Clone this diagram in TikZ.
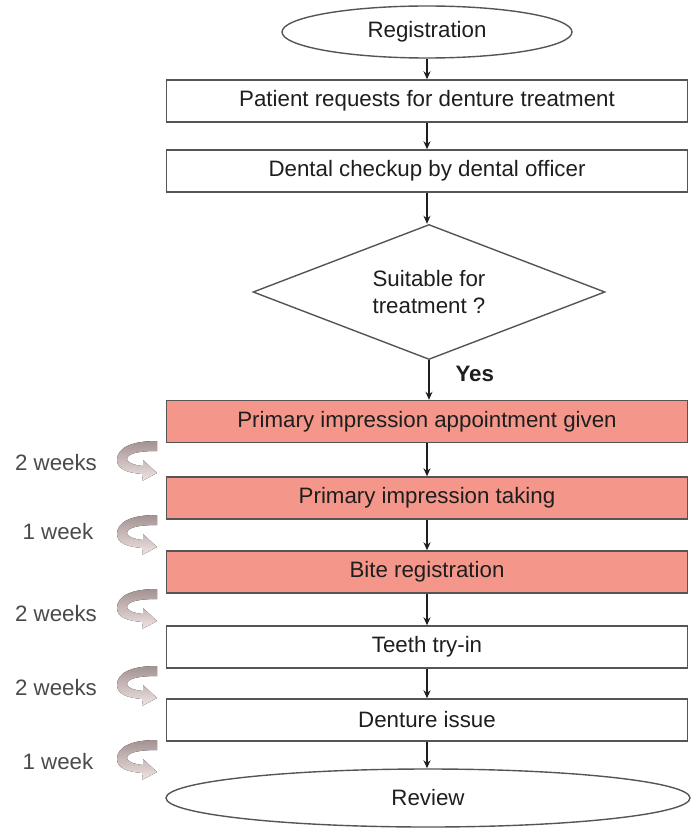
\documentclass[tikz,border=0pt]{standalone}
\usepackage{fontspec}
\setmainfont{Liberation Sans}
\usetikzlibrary{shapes.geometric,arrows.meta}

\definecolor{inkc}{HTML}{1E1E1E}
\definecolor{edgec}{HTML}{555555}
\definecolor{salmon}{HTML}{F4978A}
\definecolor{labelc}{HTML}{4A4A4A}
\definecolor{lagdark}{HTML}{A39292}
\definecolor{laglight}{HTML}{F2E4E4}

\tikzset{
  basetext/.style={font=\fontsize{22.3}{26.5}\selectfont, text=inkc},
  procbox/.style={basetext, draw=edgec, line width=1.4pt, fill=white,
    minimum width=521pt, minimum height=42pt, inner sep=0pt},
  hlbox/.style={procbox, fill=salmon},
  termshape/.style={basetext, ellipse, draw=edgec, line width=1.4pt, inner sep=0pt},
  decision/.style={basetext, diamond, draw=edgec, line width=1.4pt, inner sep=0pt,
    shape aspect=2.6, minimum width=352pt, minimum height=135pt, align=center},
  flow/.style={draw=inkc, line width=1.4pt, -{Stealth[length=8pt, width=7pt]}},
  waitlabel/.style={font=\fontsize{22.3}{26.5}\selectfont, text=labelc},
  lagarrow/.pic={
    \fill[top color=lagdark, bottom color=laglight]
      (40,0) .. controls (14,0) and (0,7) .. (0,19)
      .. controls (0,28) and (10,32) .. (26,33)
      -- (25,40) -- (40,32) -- (26,19) -- (26,25)
      .. controls (15,24) and (10,21) .. (10,18)
      .. controls (10,13) and (20,10) .. (40,10) -- cycle;
  }
}

\begin{document}
\begin{tikzpicture}[x=1pt, y=-1pt]
  \useasboundingbox (0,0) rectangle (692,829);

  % main flow
  \node[termshape, minimum width=290pt, minimum height=52pt] (reg) at (427,32) {Registration};
  \node[procbox] (req) at (427,101) {Patient requests for denture treatment};
  \node[procbox] (chk) at (427,171) {Dental checkup by dental officer};
  \node[decision] (dec) at (429,292) {Suitable for\\treatment ?};
  \node[hlbox] (pia) at (427,421.5) {Primary impression appointment given};
  \node[hlbox] (pit) at (427,498) {Primary impression taking};
  \node[hlbox] (bite) at (427,572) {Bite registration};
  \node[procbox] (try) at (427,647) {Teeth try-in};
  \node[procbox] (iss) at (427,720) {Denture issue};
  \node[termshape, minimum width=524pt, minimum height=58pt] (rev) at (428,798) {Review};

  \draw[flow] (reg.south) -- (reg.south |- req.north);
  \draw[flow] (req.south) -- (chk.north);
  \draw[flow] (chk.south) -- (chk.south |- dec.north);
  \draw[flow] (dec.south) -- (dec.south |- pia.north);
  \draw[flow] (pia.south) -- (pit.north);
  \draw[flow] (pit.south) -- (bite.north);
  \draw[flow] (bite.south) -- (try.north);
  \draw[flow] (try.south) -- (iss.north);
  \draw[flow] (iss.south) -- (iss.south |- rev.north);

  \node[basetext, font=\fontsize{22.3}{26.5}\selectfont\bfseries, anchor=west] (yes) at (452,374) {Yes};

  % waiting periods between visits
  \node[waitlabel] (w1) at (56,463) {2 weeks};
  \node[waitlabel] (w2) at (58,532) {1 week};
  \node[waitlabel] (w3) at (56,614) {2 weeks};
  \node[waitlabel] (w4) at (56,688) {2 weeks};
  \node[waitlabel] (w5) at (58,762) {1 week};

  \pic at (117,441) {lagarrow};
  \pic at (117,515) {lagarrow};
  \pic at (117,589) {lagarrow};
  \pic at (117,666) {lagarrow};
  \pic at (117,740) {lagarrow};
\end{tikzpicture}
\end{document}
